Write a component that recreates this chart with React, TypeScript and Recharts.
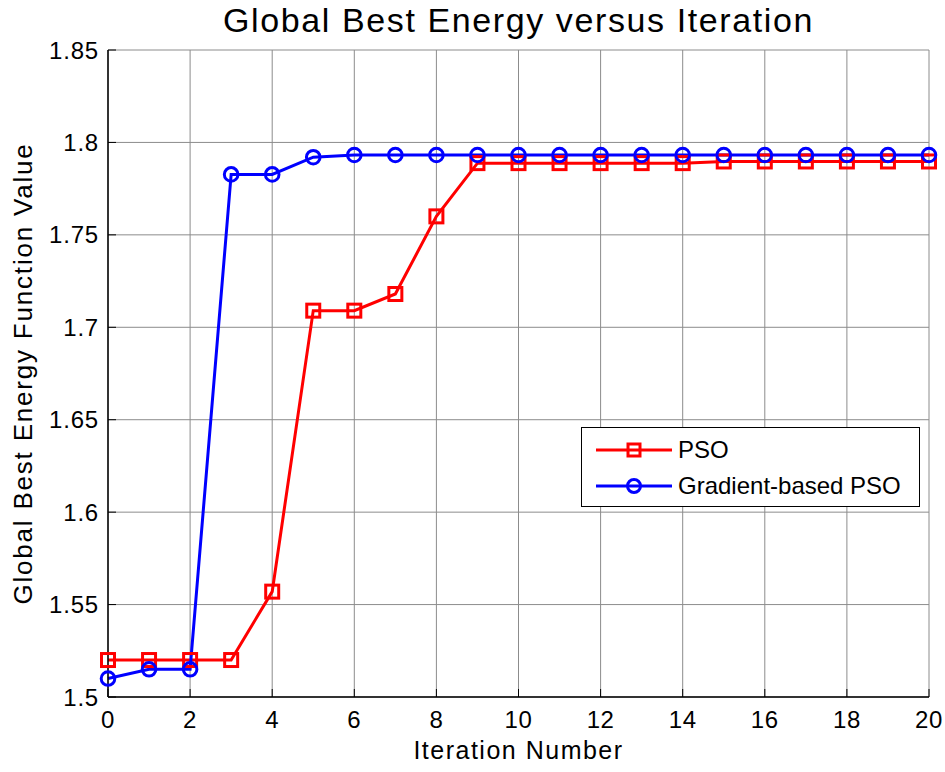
import React from 'react'
import { LineChart, Line, XAxis, YAxis, CartesianGrid, Label } from 'recharts'

// values
const iterations = [0, 1, 2, 3, 4, 5, 6, 7, 8, 9, 10, 11, 12, 13, 14, 15, 16, 17, 18, 19, 20]
const psoValues = [1.52, 1.52, 1.52, 1.52, 1.557, 1.709, 1.709, 1.718, 1.76, 1.7888, 1.7888, 1.7888, 1.7888, 1.7888, 1.7888, 1.7897, 1.7897, 1.7897, 1.7897, 1.7897, 1.7897]
const gradPsoValues = [1.51, 1.515, 1.515, 1.7827, 1.7827, 1.792, 1.7932, 1.7932, 1.7932, 1.7932, 1.7932, 1.7932, 1.7932, 1.7932, 1.7932, 1.7932, 1.7932, 1.7932, 1.7932, 1.7932, 1.7932]
const xTicks = [0, 2, 4, 6, 8, 10, 12, 14, 16, 18, 20]
const yTicks = [1.5, 1.55, 1.6, 1.65, 1.7, 1.75, 1.8, 1.85]
const seriesNames = ['PSO', 'Gradient-based PSO']

const data = iterations.map((it, i) => ({ it, pso: psoValues[i], gpso: gradPsoValues[i] }))

const FONT = '"Liberation Sans", Arial, Helvetica, sans-serif'
const RED = '#ff0000'
const BLUE = '#0000ff'
const TICK = 8
const LW = 3

const BottomTick = ({ x, y, payload }: any) => (
  <g>
    <line x1={x} y1={y} x2={x} y2={y - TICK} stroke="#000" />
    <text x={x} y={y + 31} textAnchor="middle" fontSize={24} fontFamily={FONT} letterSpacing={0.6} fill="#000">
      {payload.value}
    </text>
  </g>
)
const TopTick = ({ x, y }: any) => <line x1={x} y1={y} x2={x} y2={y + TICK} stroke="#000" />
const LeftTick = ({ x, y, payload }: any) => (
  <g>
    <line x1={x} y1={y} x2={x + TICK} y2={y} stroke="#000" />
    <text x={x - 9} y={y + 8.5} textAnchor="end" fontSize={24} fontFamily={FONT} letterSpacing={0.8} fill="#000">
      {payload.value}
    </text>
  </g>
)
const RightTick = ({ x, y }: any) => <line x1={x} y1={y} x2={x - TICK} y2={y} stroke="#000" />

const SquareDot = ({ cx, cy, index }: any) => (
  <rect key={`s${index}`} x={cx - 6.5} y={cy - 6.5} width={13} height={13} fill="none" stroke={RED} strokeWidth={LW} />
)
const CircleDot = ({ cx, cy, index }: any) => (
  <circle key={`c${index}`} cx={cx} cy={cy} r={6.8} fill="none" stroke={BLUE} strokeWidth={LW} />
)

function LegendBox() {
  const rows = [
    { name: seriesNames[0], color: RED, square: true },
    { name: seriesNames[1], color: BLUE, square: false },
  ]
  return (
    <div
      style={{
        position: 'absolute', left: 581, top: 427, width: 339, height: 80, boxSizing: 'border-box',
        background: '#fff', border: '1.5px solid #000', fontFamily: FONT, fontSize: 24,
      }}
    >
      {rows.map((r, i) => (
        <div key={r.name} style={{ position: 'absolute', left: 0, top: 4 + i * 36, height: 36, display: 'flex', alignItems: 'center' }}>
          <svg width={96} height={36}>
            <line x1={14} y1={18} x2={90} y2={18} stroke={r.color} strokeWidth={LW} />
            {r.square ? (
              <rect x={46} y={12} width={12} height={12} fill="none" stroke={r.color} strokeWidth={LW} />
            ) : (
              <circle cx={52} cy={18} r={6.5} fill="none" stroke={r.color} strokeWidth={LW} />
            )}
          </svg>
          <span style={{ color: '#000' }}>{r.name}</span>
        </div>
      ))}
    </div>
  )
}

export default function App() {
  return (
    <div style={{ position: 'relative', width: 945, height: 772, background: '#fff' }}>
      <style>{'body{margin:0;background:#fff}'}</style>
      <div
        style={{
          position: 'absolute', left: 108, top: 1, width: 821, textAlign: 'center', fontFamily: FONT,
          fontSize: 34, lineHeight: '38px', letterSpacing: 1.6, color: '#000', zIndex: 1,
        }}
      >
        Global Best Energy versus Iteration
      </div>
      <LineChart width={945} height={772} data={data} margin={{ top: 50, right: 16, bottom: 35, left: 48 }}>
        <CartesianGrid stroke="#8c8c8c" strokeWidth={1} />
        <XAxis
          dataKey="it" type="number" domain={[0, 20]} ticks={xTicks} interval={0} height={40}
          tickSize={0} tickMargin={0} tickLine={false} tick={<BottomTick />}
          axisLine={{ stroke: '#000', strokeWidth: 1.5 }}
        >
          <Label
            content={({ viewBox }: any) => (
              <text x={viewBox.x + viewBox.width / 2} y={viewBox.y + 62} textAnchor="middle" fontSize={25} letterSpacing={1.5} fontFamily={FONT} fill="#000">
                Iteration Number
              </text>
            )}
          />
        </XAxis>
        <XAxis
          xAxisId="top" orientation="top" dataKey="it" type="number" domain={[0, 20]} ticks={xTicks} interval={0} height={0}
          tickSize={0} tickMargin={0} tickLine={false} tick={<TopTick />}
          axisLine={{ stroke: '#000', strokeWidth: 1.5 }}
        />
        <YAxis
          type="number" domain={[1.5, 1.85]} ticks={yTicks} interval={0} width={60}
          tickSize={0} tickMargin={0} tickLine={false} tick={<LeftTick />}
          axisLine={{ stroke: '#000', strokeWidth: 1.5 }}
        >
          <Label
            content={({ viewBox }: any) => {
              const cx = viewBox.x - 16
              const cy = viewBox.y + viewBox.height / 2
              return (
                <text x={cx} y={cy} transform={`rotate(-90 ${cx} ${cy})`} textAnchor="middle" fontSize={26} letterSpacing={1.8} fontFamily={FONT} fill="#000">
                  Global Best Energy Function Value
                </text>
              )
            }}
          />
        </YAxis>
        <YAxis
          yAxisId="right" orientation="right" type="number" domain={[1.5, 1.85]} ticks={yTicks} interval={0} width={0}
          tickSize={0} tickMargin={0} tickLine={false} tick={<RightTick />}
          axisLine={{ stroke: '#000', strokeWidth: 1.5 }}
        />
        <Line dataKey="pso" name={seriesNames[0]} stroke={RED} strokeWidth={LW} dot={SquareDot} isAnimationActive={false} />
        <Line dataKey="gpso" name={seriesNames[1]} stroke={BLUE} strokeWidth={LW} dot={CircleDot} isAnimationActive={false} />
      </LineChart>
      <LegendBox />
    </div>
  )
}
